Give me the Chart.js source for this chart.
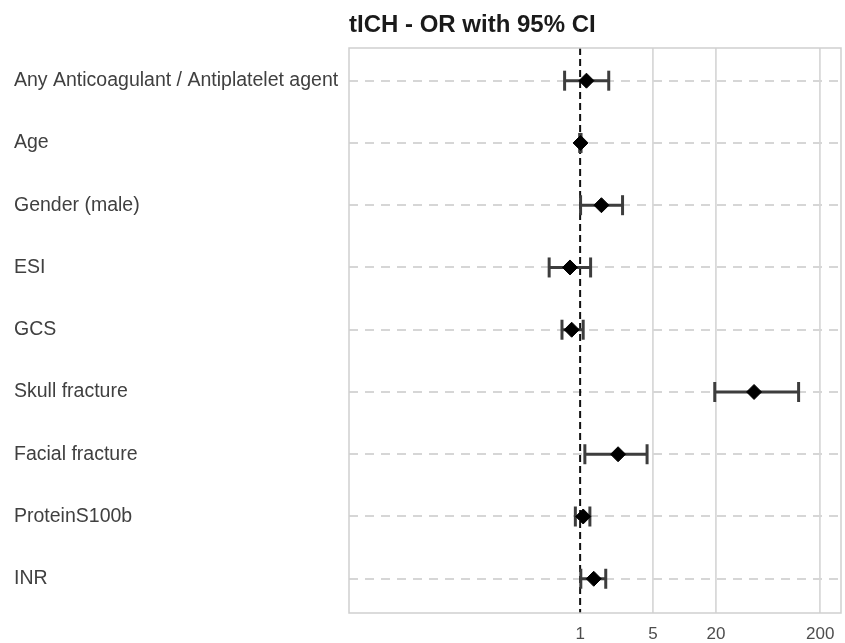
<!DOCTYPE html>
<html>
<head>
<meta charset="utf-8">
<script src="https://cdn.jsdelivr.net/npm/chart.js@4/dist/chart.umd.min.js"></script>
<style>
  html, body { margin: 0; padding: 0; background: #ffffff; }
  #wrap { width: 845px; height: 643px; position: relative; }
</style>
</head>
<body>
<div id="wrap"><canvas id="c" width="845" height="643"></canvas></div>
<script>
const titleText = "tICH - OR with 95% CI";
const categories = [
  "Any Anticoagulant / Antiplatelet agent",
  "Age",
  "Gender (male)",
  "ESI",
  "GCS",
  "Skull fracture",
  "Facial fracture",
  "ProteinS100b",
  "INR"
];
const oddsRatio = [1.15, 1.01, 1.60, 0.80, 0.83, 46.4, 2.31, 1.07, 1.35];
const ciLower   = [0.71, 0.99, 1.01, 0.505, 0.67, 19.5, 1.11, 0.90, 1.015];
const ciUpper   = [1.88, 1.02, 2.55, 1.26, 1.07, 124, 4.38, 1.24, 1.76];
const xTicks = [1, 5, 20, 200];
const referenceOR = 1;

const rows = categories.map((_, i) => i + 1);

const whiskerData = [];
const capData = [];
const pointData = [];
rows.forEach((r, i) => {
  whiskerData.push({x: ciLower[i], y: r});
  whiskerData.push({x: ciUpper[i], y: r});
  whiskerData.push({x: NaN, y: NaN});
  capData.push({x: ciLower[i], y: r});
  capData.push({x: ciUpper[i], y: r});
  pointData.push({x: oddsRatio[i], y: r});
});

const framePlugin = {
  id: 'frameAndRef',
  beforeDatasetsDraw(chart) {
    const {ctx, chartArea: a, scales} = chart;
    ctx.save();
    const xp = scales.x.getPixelForValue(referenceOR);
    ctx.strokeStyle = '#111111';
    ctx.lineWidth = 2;
    ctx.setLineDash([7, 4]);
    ctx.beginPath();
    ctx.moveTo(xp, a.top);
    ctx.lineTo(xp, a.bottom);
    ctx.stroke();
    ctx.setLineDash([]);
    ctx.strokeStyle = '#cfcfcf';
    ctx.lineWidth = 1.5;
    ctx.strokeRect(a.left, a.top, a.right - a.left, a.bottom - a.top);
    ctx.restore();
  },
  afterDraw(chart) {
    const {ctx, chartArea: a} = chart;
    ctx.save();
    ctx.font = 'bold 24px "Liberation Sans", Arial, sans-serif';
    ctx.fillStyle = '#1a1a1a';
    ctx.textBaseline = 'middle';
    ctx.textAlign = 'left';
    ctx.fillText(titleText, a.left, 25);
    ctx.restore();
  }
};

new Chart(document.getElementById('c'), {
  type: 'scatter',
  data: {
    datasets: [
      {
        type: 'line',
        data: whiskerData,
        showLine: true,
        spanGaps: false,
        borderColor: '#3d3d3d',
        borderWidth: 3,
        pointRadius: 0,
        order: 3
      },
      {
        data: capData,
        pointStyle: 'line',
        rotation: 90,
        pointRadius: 10,
        borderColor: '#3d3d3d',
        borderWidth: 3,
        order: 2
      },
      {
        data: pointData,
        pointStyle: 'rectRot',
        pointRadius: 7.5,
        backgroundColor: '#000000',
        borderColor: '#000000',
        borderWidth: 1,
        order: 1
      }
    ]
  },
  options: {
    responsive: false,
    animation: false,
    layout: { autoPadding: false, padding: { left: 14, top: 48, right: 4, bottom: 0 } },
    plugins: {
      legend: { display: false },
      tooltip: { enabled: false },
      title: { display: false }
    },
    scales: {
      x: {
        type: 'logarithmic',
        min: 0.0061,
        max: 316,
        afterBuildTicks(scale) { scale.ticks = xTicks.map(v => ({value: v})); },
        afterFit(scale) { scale.height = 30; scale.paddingLeft = 0; scale.paddingRight = 0; },
        ticks: {
          callback: (v) => String(v),
          font: { family: '"Liberation Sans", Arial, sans-serif', size: 17 },
          color: '#4d4d4d',
          padding: 11,
          maxRotation: 0,
          autoSkip: false
        },
        grid: {
          drawTicks: false,
          color: (ctx) => (ctx.tick && ctx.tick.value === referenceOR) ? 'rgba(0,0,0,0)' : '#d9d9d9',
          lineWidth: 1.8
        },
        border: { display: false }
      },
      y: {
        type: 'linear',
        reverse: true,
        min: 0.475,
        max: 9.55,
        afterBuildTicks(scale) { scale.ticks = rows.map(v => ({value: v})); },
        afterFit(scale) { scale.width = 335; },
        ticks: {
          callback: (v) => categories[v - 1],
          font: { family: '"Liberation Sans", Arial, sans-serif', size: 19.5 },
          color: '#404040',
          crossAlign: 'far',
          autoSkip: false
        },
        grid: {
          drawTicks: false,
          color: '#d6d6d6',
          lineWidth: 2
        },
        border: { display: false, dash: [9, 7] }
      }
    }
  },
  plugins: [framePlugin]
});
</script>
</body>
</html>
